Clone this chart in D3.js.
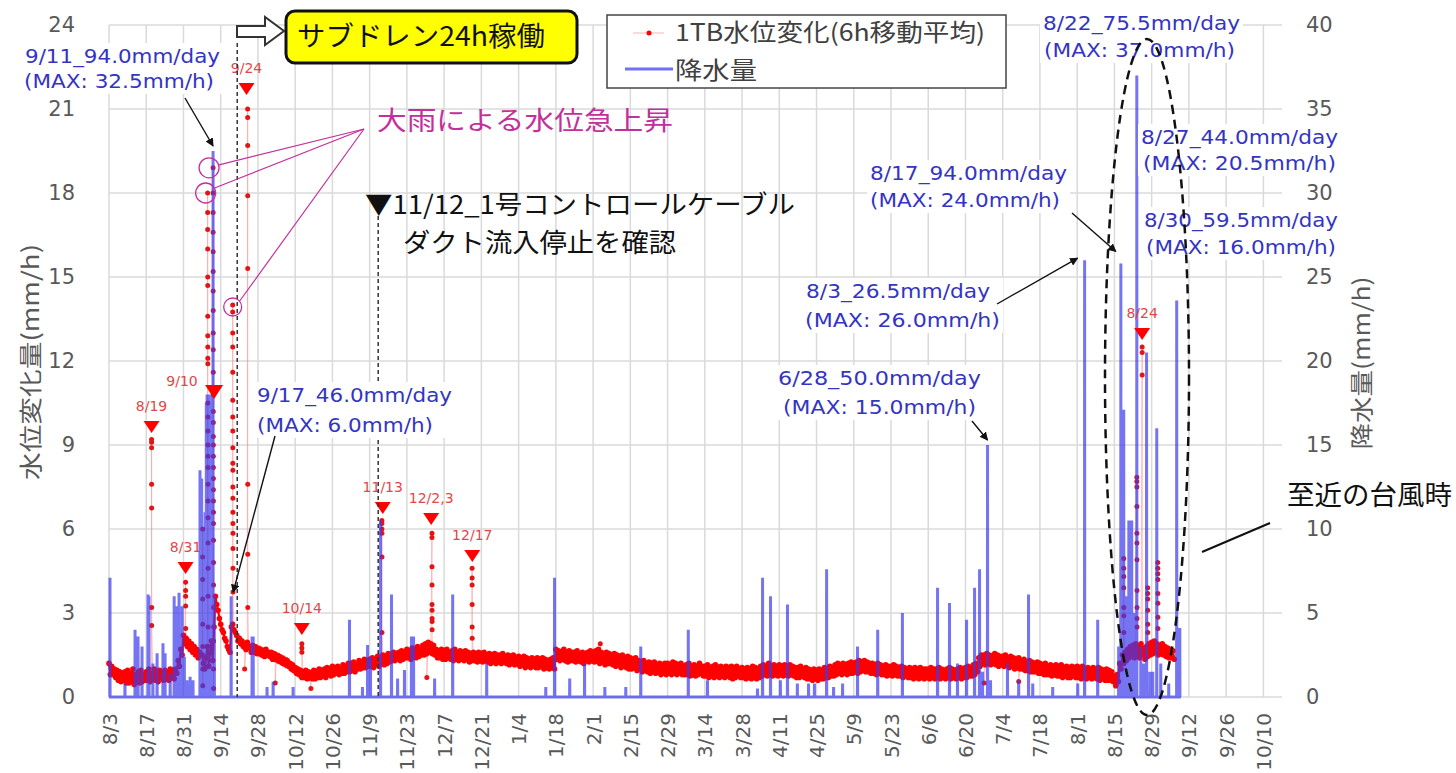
<!DOCTYPE html>
<html><head><meta charset="utf-8">
<script src="https://cdn.jsdelivr.net/npm/d3@7"></script>
<style>
html,body{margin:0;padding:0;background:#fff;}
svg{display:block;}
</style></head><body>
<svg id="chart" width="1456" height="773"></svg>
<script>
// ================= DATA =================
// 1TB water-level change (6h moving avg), sampled every 12 h from levelStart (mm/h, left axis)
const levelStart = "2015-08-03 00";
const levelValues = [
1.2,0.8,1.1,0.8,1.0,0.7,0.95,0.6,0.9,0.55,0.85,0.6,0.9,0.5,
0.95,0.5,0.85,0.55,1.0,0.45,0.8,0.6,0.9,0.5,0.95,0.55,0.8,0.6,
0.9,0.6,1.0,0.55,0.85,0.65,1.0,0.6,0.9,0.55,0.95,0.7,0.85,0.6,
0.95,0.65,0.9,0.6,1.0,0.7,0.95,0.65,1.0,0.85,1.3,1.1,1.7,1.5,
2.2,1.9,2.1,1.8,2.0,1.7,1.9,1.6,1.8,1.5,1.7,1.4,1.6,1.5,
1.5,1.2,1.0,1.4,1.8,1.1,1.6,2.0,1.3,2.5,3.6,3.3,3.1,2.8,
2.6,2.4,2.3,2.1,2.0,1.8,1.7,1.6,2.5,2.6,2.4,2.3,2.2,2.0,
2.1,1.9,2.0,1.8,1.9,1.7,1.95,1.75,1.8,1.6,1.85,1.6,1.8,1.55,
1.75,1.55,1.7,1.5,1.65,1.45,1.7,1.5,1.6,1.45,1.6,1.35,1.55,1.35,
1.5,1.3,1.45,1.25,1.4,1.2,1.35,1.15,1.3,1.1,1.2,1.0,1.15,0.95,
1.05,0.85,1.0,0.8,0.95,0.7,0.9,0.7,0.95,0.65,0.9,0.7,0.85,0.65,
0.95,0.65,0.9,0.7,1.0,0.7,0.95,0.75,1.0,0.7,1.05,0.8,1.0,0.75,
1.1,0.8,1.05,0.85,1.1,0.8,1.0,0.85,1.15,0.85,1.1,0.9,1.2,0.9,
1.2,0.95,1.25,0.9,1.15,1.0,1.3,1.0,1.25,1.05,1.35,1.05,1.3,1.1,
1.35,1.1,1.4,1.05,1.3,1.15,1.45,1.1,1.4,1.2,1.5,1.15,1.45,1.2,
1.55,1.25,1.5,1.3,1.6,1.3,1.55,1.35,1.6,1.3,1.65,1.35,1.6,1.4,
1.7,1.4,1.65,1.35,1.75,1.45,1.7,1.4,1.8,1.45,1.7,1.5,1.85,1.5,
1.9,1.55,1.95,1.6,1.9,1.55,1.85,1.5,1.7,1.4,1.65,1.4,1.7,1.35,
1.65,1.35,1.7,1.4,1.6,1.35,1.65,1.3,1.7,1.35,1.6,1.3,1.65,1.35,
1.6,1.3,1.65,1.35,1.6,1.25,1.55,1.3,1.6,1.3,1.55,1.25,1.6,1.3,
1.55,1.25,1.6,1.3,1.5,1.25,1.55,1.2,1.5,1.25,1.55,1.2,1.5,1.25,
1.5,1.2,1.55,1.25,1.45,1.2,1.5,1.15,1.45,1.2,1.5,1.15,1.4,1.2,
1.45,1.1,1.4,1.15,1.45,1.05,1.4,1.1,1.35,1.05,1.4,1.1,1.35,1.05,
1.4,1.05,1.35,1.1,1.4,1.0,1.35,1.05,1.3,1.0,1.35,1.05,1.4,1.0,
1.7,1.35,1.65,1.3,1.6,1.35,1.7,1.3,1.6,1.25,1.65,1.3,1.6,1.3,
1.6,1.25,1.65,1.3,1.55,1.25,1.6,1.2,1.55,1.3,1.6,1.25,1.65,1.3,
1.6,1.25,1.65,1.3,1.7,1.2,1.6,1.25,1.55,1.15,1.6,1.2,1.55,1.2,
1.5,1.15,1.55,1.1,1.5,1.15,1.45,1.05,1.5,1.1,1.4,1.05,1.45,1.0,
1.4,1.0,1.35,1.05,1.4,0.95,1.3,1.0,1.25,0.9,1.3,0.95,1.2,0.9,
1.25,0.85,1.2,0.9,1.25,0.85,1.15,0.9,1.2,0.8,1.15,0.85,1.2,0.8,
1.2,0.85,1.15,0.8,1.25,0.85,1.2,0.8,1.15,0.85,1.2,0.8,1.1,0.8,
1.15,0.8,1.2,0.75,1.1,0.8,1.15,0.75,1.1,0.8,1.2,0.85,1.1,0.75,
1.1,0.75,1.15,0.7,1.05,0.75,1.1,0.7,1.15,0.75,1.05,0.7,1.1,0.75,
1.05,0.7,1.1,0.75,1.05,0.7,1.1,0.65,1.05,0.7,1.1,0.75,1.0,0.7,
1.05,0.7,1.0,0.65,1.05,0.7,1.0,0.65,1.1,0.7,1.05,0.65,1.0,0.7,
1.1,0.75,1.15,0.8,1.1,0.75,1.2,0.8,1.1,0.75,1.15,0.8,1.1,0.75,
1.15,0.8,1.1,0.75,1.15,0.8,1.1,0.75,1.15,0.8,1.1,0.75,1.05,0.7,
1.05,0.7,1.1,0.75,1.0,0.7,1.05,0.65,1.0,0.65,0.95,0.6,1.0,0.65,
0.95,0.6,1.0,0.65,0.95,0.65,1.05,0.7,1.0,0.7,1.1,0.75,1.05,0.75,
1.15,0.8,1.2,0.85,1.15,0.8,1.2,0.85,1.15,0.8,1.2,0.85,1.25,0.85,
1.2,0.9,1.25,0.85,1.3,0.9,1.25,0.95,1.3,0.9,1.25,0.9,1.2,0.85,
1.2,0.85,1.15,0.8,1.2,0.85,1.15,0.8,1.1,0.8,1.15,0.75,1.1,0.8,
1.1,0.75,1.15,0.8,1.1,0.75,1.05,0.75,1.1,0.7,1.05,0.75,1.0,0.7,
1.05,0.7,1.0,0.65,1.05,0.7,1.0,0.65,1.05,0.7,1.0,0.65,1.0,0.7,
1.0,0.65,1.05,0.7,1.0,0.65,1.0,0.7,1.05,0.65,1.0,0.7,0.95,0.65,
1.0,0.7,1.05,0.65,1.0,0.7,0.95,0.65,1.0,0.7,1.05,0.65,1.0,0.7,
1.05,0.7,1.1,0.75,1.05,0.75,1.15,0.8,1.2,0.9,1.4,1.1,1.5,1.2,
1.5,1.15,1.55,1.2,1.5,1.15,1.45,1.2,1.55,1.15,1.5,1.1,1.45,1.15,
1.45,1.1,1.5,1.15,1.4,1.05,1.45,1.1,1.4,1.0,1.35,1.05,1.4,1.0,
1.3,1.0,1.35,0.95,1.25,0.95,1.3,0.9,1.25,0.9,1.2,0.9,1.25,0.85,
1.2,0.85,1.15,0.8,1.2,0.8,1.1,0.8,1.15,0.75,1.1,0.8,1.15,0.75,
1.1,0.75,1.15,0.7,1.05,0.75,1.1,0.7,1.05,0.7,1.1,0.75,1.05,0.7,
1.1,0.7,1.05,0.65,1.1,0.7,1.0,0.65,1.05,0.7,1.0,0.65,1.05,0.7,
1.0,0.65,1.05,0.6,1.0,0.65,0.95,0.6,1.0,0.6,0.95,0.6,0.9,0.55,
0.75,0.4,0.8,0.55,1.2,1.0,1.5,1.2,1.6,1.3,1.7,1.4,1.8,1.5,
1.85,1.4,1.9,1.45,1.8,1.4,1.9,1.5,1.75,1.35,1.8,1.45,1.9,1.5,
1.95,1.55,2.0,1.6,1.9,1.5,1.85,1.55,1.9,1.5,1.8,1.45,1.75,1.4,
1.7,1.4,1.65,1.35
];
// sudden rises (columns of readings on one day, left axis)
const spikeTimes = ["2015-08-19 00","2015-08-31 19","2015-09-07 05","2015-09-09 02","2015-09-11 03",
  "2015-09-18 12","2015-09-24 03","2015-10-14 12","2015-11-13 14","2015-12-02 10","2015-12-17 12",
  "2016-08-18 12","2016-08-23 10","2016-08-25 10","2016-08-27 12","2016-08-31 07"];
const spikeValues = [
  [9.2,9.1,8.9,7.6,6.75,3.2,2.55],
  [4.1,3.8,3.6,3.25,2.45],
  [6.0,5.0,4.2,3.5,2.6,1.8,1.0,0.4],
  [18.0,17.3,16.7,16.0,15.0,14.7,13.6,12.9,12.5,12.1,11.9,10.5,10.0,9.5,9.0,8.6,8.2,7.6,7.0,6.4,5.5,4.6,3.6,2.5,1.5],
  [18.9,18.0,17.3,16.6,15.9,15.2,14.5,13.8,13.0,12.4,11.6,10.8,10.2,9.8,9.3,9.0,8.6,8.2,7.8,7.4,7.0,6.6,6.2,5.6,4.8,4.0,3.2,2.0,1.0,0.3],
  [14.0,13.75,13.0,12.5,11.6,10.6,10.0,9.5,8.9,8.35,8.1,7.5,7.1,6.6,6.2,5.85,5.3,4.6,3.75],
  [21.0,20.7,19.7,17.9,15.3,7.6,5.1,3.2],
  [1.9,1.75,1.6],
  [6.3,6.2,6.0,5.85,5.0,2.3],
  [5.85,5.7,4.65,4.0,3.3,3.1,2.8,2.7,2.4],
  [4.6,4.25,4.0,3.3,2.5,2.1],
  [4.95,4.6,4.3,3.9,3.2,2.9,2.3],
  [7.85,7.7,7.5,6.8,5.85,5.5,4.9,3.8,3.2,2.8,2.5],
  [12.5,12.3,11.5],
  [3.9,3.7,3.5,3.1,2.6,2.3],
  [4.8,4.6,4.4,4.2,3.7,3.35,2.85,2.45]
];
// isolated readings off the band
const extraTimes = ["2015-09-23 00","2015-10-04 12","2015-10-17 22","2015-11-30 12","2016-02-03 17","2016-06-27 00","2016-07-10 00"];
const extraValues = [1.0,0.5,0.3,0.7,1.9,0.5,0.55];

// precipitation (mm/h, right axis)
const rainTimes = [
"2015-08-03 09","2015-08-09 00","2015-08-12 19","2015-08-13 22","2015-08-15 10","2015-08-17 17","2015-08-18 01","2015-08-19 12",
"2015-08-21 02","2015-08-23 07","2015-08-24 02","2015-08-26 00","2015-08-27 12","2015-08-28 14","2015-08-29 08","2015-08-30 12",
"2015-08-31 08","2015-09-01 08","2015-09-02 12","2015-09-03 14","2015-09-06 05","2015-09-06 20","2015-09-07 09","2015-09-07 20",
"2015-09-08 03","2015-09-08 14","2015-09-08 21","2015-09-09 06","2015-09-09 14","2015-09-09 22","2015-09-10 09","2015-09-10 18",
"2015-09-11 03","2015-09-11 14","2015-09-17 22","2015-09-25 19","2015-09-26 05","2015-10-01 10","2015-10-03 17","2015-10-11 05",
"2015-11-01 10","2015-11-06 07","2015-11-08 05","2015-11-09 07","2015-11-13 02","2015-11-17 05","2015-11-19 12","2015-11-22 02",
"2015-11-24 17","2015-11-25 12","2015-12-03 10","2015-12-10 05","2015-12-23 00","2016-01-14 05","2016-01-17 12","2016-01-23 05",
"2016-01-28 19","2016-02-05 10","2016-02-13 07","2016-02-18 22","2016-03-07 19","2016-03-15 00","2016-04-02 19","2016-04-04 17",
"2016-04-07 17","2016-04-11 10","2016-04-14 02","2016-04-17 19","2016-04-22 00","2016-04-24 05","2016-04-28 19","2016-05-01 10",
"2016-05-04 19","2016-05-10 10","2016-05-18 00","2016-05-27 07","2016-06-09 12","2016-06-14 00","2016-06-17 00","2016-06-20 10",
"2016-06-23 10","2016-06-25 07","2016-06-26 10","2016-06-28 07","2016-06-29 10","2016-07-05 19","2016-07-10 00","2016-07-13 17",
"2016-07-15 07","2016-07-22 19","2016-08-01 05","2016-08-03 19","2016-08-08 17","2016-08-16 14","2016-08-17 10","2016-08-18 12",
"2016-08-19 14","2016-08-20 10","2016-08-21 12","2016-08-22 07","2016-08-23 10","2016-08-24 22","2016-08-26 00","2016-08-27 02",
"2016-08-28 07","2016-08-29 10","2016-08-30 22","2016-09-01 10","2016-09-04 10","2016-09-07 10","2016-09-08 14"];
const rainValues = [
7.1,0.8,4.0,3.6,3.0,6.1,6.0,2.0,
2.6,3.2,2.6,1.4,6.0,5.4,6.2,5.4,
2.4,1.0,1.2,1.0,13.5,13.0,8.0,10.0,
11.0,17.5,18.0,17.0,18.0,17.5,17.0,18.0,
32.5,6.0,6.0,3.6,3.6,0.6,0.9,0.6,
4.6,0.6,3.1,2.4,10.5,6.1,1.1,1.6,
3.6,3.6,1.1,6.1,2.0,0.6,7.1,1.1,
2.0,0.6,0.6,3.0,4.0,1.0,0.5,7.1,
6.0,1.0,5.5,0.8,0.8,0.8,7.6,0.6,
0.8,3.0,4.0,5.0,6.5,5.6,2.0,4.6,
6.5,7.6,1.5,15.0,1.0,2.0,1.0,6.1,
0.8,0.6,0.8,26.0,4.6,3.0,25.8,17.1,
6.0,10.5,10.5,5.0,37.0,3.0,2.0,20.5,
1.5,1.5,16.0,2.0,0.8,23.6,4.1];
const rainEnd = "2016-09-08 23";

// event markers (▼) on the water-level series
const markerTimes = ["2015-08-19 00","2015-08-31 19","2015-09-11 12","2015-09-23 17","2015-10-14 12","2015-11-13 22","2015-12-02 03","2015-12-17 14","2016-08-25 10"];
const markerValues = [9.86,4.82,11.14,21.93,2.64,6.96,6.57,5.25,13.18];
const markerLabels = ["8/19","8/31","9/10","9/24","10/14","11/13","12/2,3","12/17","8/24"];

const xTickDates = ["2015-08-03","2015-08-17","2015-08-31","2015-09-14","2015-09-28","2015-10-12","2015-10-26","2015-11-09",
"2015-11-23","2015-12-07","2015-12-21","2016-01-04","2016-01-18","2016-02-01","2016-02-15","2016-02-29","2016-03-14",
"2016-03-28","2016-04-11","2016-04-25","2016-05-09","2016-05-23","2016-06-06","2016-06-20","2016-07-04","2016-07-18",
"2016-08-01","2016-08-15","2016-08-29","2016-09-12","2016-09-26","2016-10-10"];
const leftTicks = [0,3,6,9,12,15,18,21,24];
const rightTicks = [0,5,10,15,20,25,30,35,40];
const seriesNames = ["1TB水位変化(6h移動平均)","降水量"];
const leftTitle = "水位変化量(mm/h)";
const rightTitle = "降水量(mm/h)";

// ================= CHART =================
const parseH = d3.timeParse("%Y-%m-%d %H");
const parseD = d3.timeParse("%Y-%m-%d");
const svg = d3.select("#chart");
const M = {left:109, right:1282, top:25, bottom:697};
const x = d3.scaleTime().domain([parseD("2015-08-03"), parseD("2016-10-17")]).range([M.left, M.right]);
const yL = d3.scaleLinear().domain([0,24]).range([M.bottom, M.top]);
const yR = d3.scaleLinear().domain([0,40]).range([M.bottom, M.top]);
const GRAY = "#595959";
const JP = "'Noto Sans CJK JP','Noto Sans CJK SC',sans-serif";
const LAT = "'DejaVu Sans',sans-serif";
const BLUE = "#3434c4";
const RED = "#ff0000";

const defs = svg.append("defs");
defs.append("marker").attr("id","ah").attr("viewBox","0 0 10 10").attr("refX",9).attr("refY",5)
  .attr("markerWidth",6).attr("markerHeight",6).attr("orient","auto")
  .append("path").attr("d","M0,0L10,5L0,10z").attr("fill","#111");

// gridlines
const grid = svg.append("g");
grid.selectAll(".gh").data(leftTicks).join("line").attr("class","gh")
  .attr("x1",M.left).attr("x2",M.right).attr("y1",d=>yL(d)).attr("y2",d=>yL(d))
  .attr("stroke","#dadada").attr("stroke-width",1.5);
grid.selectAll(".gv").data(xTickDates).join("line").attr("class","gv")
  .attr("x1",d=>x(parseD(d))).attr("x2",d=>x(parseD(d))).attr("y1",M.top).attr("y2",M.bottom)
  .attr("stroke","#dadada").attr("stroke-width",1.5);

// axes
const axL = svg.append("g").attr("transform",`translate(${M.left},0)`)
  .call(d3.axisLeft(yL).tickValues(leftTicks).tickSize(0).tickPadding(34));
axL.select(".domain").remove();
axL.selectAll("text").attr("fill",GRAY).style("font-family",LAT).style("font-size","21px");
const axR = svg.append("g").attr("transform",`translate(${M.right},0)`)
  .call(d3.axisRight(yR).tickValues(rightTicks).tickSize(0).tickPadding(24));
axR.select(".domain").remove();
axR.selectAll("text").attr("fill",GRAY).style("font-family",LAT).style("font-size","21px");
const axB = svg.append("g").attr("transform",`translate(0,${M.bottom})`)
  .call(d3.axisBottom(x).tickValues(xTickDates.map(parseD)).tickFormat(d3.timeFormat("%-m/%-d")).tickSize(0));
axB.select(".domain").remove();
axB.selectAll("text").attr("transform","rotate(-90)").attr("text-anchor","end")
  .attr("x",-16).attr("y",0).attr("dy","0.35em").attr("fill",GRAY)
  .style("font-family",LAT).style("font-size","20px");

// axis titles
svg.append("text").attr("transform","translate(31,362) rotate(-90)").attr("text-anchor","middle")
  .attr("dy","0.35em").attr("fill",GRAY).style("font-family",JP).style("font-size","23px")
  .attr("textLength",236).attr("lengthAdjust","spacingAndGlyphs").text(leftTitle);
svg.append("text").attr("transform","translate(1362,363) rotate(-90)").attr("text-anchor","middle")
  .attr("dy","0.35em").attr("fill",GRAY).style("font-family",JP).style("font-size","23px")
  .attr("textLength",173).attr("lengthAdjust","spacingAndGlyphs").text(rightTitle);

// water level series
const t0 = parseH(levelStart);
const band = levelValues.map((v,i)=>({t:d3.timeHour.offset(t0,12*i), v, k:"b"}));
const pts = band.slice();
spikeTimes.forEach((s,j)=>{
  const ts = parseH(s);
  spikeValues[j].forEach((v,k)=>pts.push({t:d3.timeMinute.offset(ts,10*k+5), v, k:"s"}));
});
extraTimes.forEach((s,j)=>pts.push({t:parseH(s), v:extraValues[j], k:"s"}));
pts.sort((a,b)=>a.t-b.t);
const lineL = d3.line().x(d=>x(d.t)).y(d=>yL(d.v));
svg.append("path").datum(pts).attr("d", lineL)
  .attr("fill","none").attr("stroke","#ff8a8a").attr("stroke-width",1).attr("stroke-opacity",0.5);
svg.append("path").datum(band).attr("d", lineL)
  .attr("fill","none").attr("stroke",RED).attr("stroke-width",2.2);
svg.append("g").selectAll("circle").data(pts).join("circle")
  .attr("cx",d=>x(d.t)).attr("cy",d=>yL(d.v)).attr("r",d=>d.k==="b"?2.8:2.5)
  .attr("fill",d=>d.k==="b"?RED:"#e41414");

// precipitation series (hourly line)
const rain = [{t:t0, v:0}];
rainTimes.forEach((s,i)=>{
  const t = parseH(s);
  rain.push({t:d3.timeHour.offset(t,-1), v:0},{t, v:rainValues[i]},{t:d3.timeHour.offset(t,1), v:0});
});
rain.push({t:parseH(rainEnd), v:0});
svg.append("path").datum(rain)
  .attr("d", d3.line().x(d=>x(d.t)).y(d=>yR(d.v)))
  .attr("fill","none").attr("stroke","#3a3aee").attr("stroke-opacity",0.7)
  .attr("stroke-width",3).attr("stroke-linejoin","bevel");

// event markers
const mk = svg.append("g");
markerTimes.forEach((s,i)=>{
  const cx = x(parseH(s)), ty = yL(markerValues[i]);
  const big = markerLabels[i]==="9/10";
  const w = big?9:8, h = big?14:12;
  mk.append("polygon").attr("points",`${cx-w},${ty} ${cx+w},${ty} ${cx},${ty+h}`).attr("fill",RED);
  mk.append("text").attr("x", big? cx-32 : cx).attr("y", big? ty-4 : ty-15).attr("dy","0.35em")
    .attr("text-anchor","middle").attr("fill","#e04848").style("font-family",LAT).style("font-size","14px")
    .text(markerLabels[i]);
});

// dashed reference lines
svg.append("line").attr("x1",x(parseH("2015-09-20 05"))).attr("x2",x(parseH("2015-09-20 05")))
  .attr("y1",43).attr("y2",M.bottom).attr("stroke","#333").attr("stroke-width",1.5).attr("stroke-dasharray","4,3");
svg.append("line").attr("x1",x(parseH("2015-11-12 05"))).attr("x2",x(parseH("2015-11-12 05")))
  .attr("y1",216).attr("y2",M.bottom).attr("stroke","#333").attr("stroke-width",1.5).attr("stroke-dasharray","4,3");

// helper for fitted text
function fitText(s, x0, yc, len, size, fill, family, anchor){
  return svg.append("text").attr("x",x0).attr("y",yc).attr("dy","0.35em").attr("fill",fill)
    .attr("text-anchor",anchor||"start")
    .style("font-family",family).style("font-size",size+"px")
    .attr("textLength",len).attr("lengthAdjust","spacingAndGlyphs").text(s);
}

// rainfall annotations (blue)
const notes = [
  ["9/11_94.0mm/day",25,56,195,"(MAX: 32.5mm/h)",24,81,190],
  ["9/17_46.0mm/day",257,395,195,"(MAX: 6.0mm/h)",257,425,176],
  ["6/28_50.0mm/day",778,378,203,"(MAX: 15.0mm/h)",783,407,193],
  ["8/3_26.5mm/day",806,291,184,"(MAX: 26.0mm/h)",805,320,195],
  ["8/17_94.0mm/day",870,173,197,"(MAX: 24.0mm/h)",870,200,190],
  ["8/22_75.5mm/day",1043,23,197,"(MAX: 37.0mm/h)",1044,50,191],
  ["8/27_44.0mm/day",1141,137,197,"(MAX: 20.5mm/h)",1143,163,193],
  ["8/30_59.5mm/day",1144,220,194,"(MAX: 16.0mm/h)",1146,247,190]
];
notes.forEach(n=>{
  const x0 = Math.min(n[1],n[5])-3, w = Math.max(n[1]+n[3],n[5]+n[7])-x0+3;
  svg.append("rect").attr("x",x0).attr("y",n[2]-13).attr("width",w).attr("height",n[6]-n[2]+26).attr("fill","#fff");
  fitText(n[0],n[1],n[2],n[3],19,BLUE,LAT);
  fitText(n[4],n[5],n[6],n[7],19,BLUE,LAT);
});

// arrows to rainfall peaks
function arrow(x1,y1,x2,y2){
  svg.append("line").attr("x1",x1).attr("y1",y1).attr("x2",x2).attr("y2",y2)
    .attr("stroke","#111").attr("stroke-width",1.4).attr("marker-end","url(#ah)");
}
arrow(185,98, x(parseH("2015-09-11 03")), yR(32.5)-5);
arrow(275,436, x(parseH("2015-09-17 22"))+2, yR(6.0)-4);
arrow(972,421, x(parseH("2016-06-28 07")), yR(15.0)-5);
arrow(997,304, x(parseH("2016-08-03 19"))-7, yR(26.0)-2);
arrow(1072,213, x(parseH("2016-08-17 10"))-5, yR(25.8)-12);

// heavy-rain rise callout (magenta)
const MAG = "#c3309c";
fitText("大雨による水位急上昇",377,121,296,26,MAG,JP);
const c1 = [x(parseH("2015-09-11 03"))-4, yL(18.9)];
const c2 = [x(parseH("2015-09-09 02"))-2, yL(18.0)];
const c3 = [x(parseH("2015-09-18 12")), yL(14.0)+2];
[[c1,10],[c2,10],[c3,9]].forEach(([c,r])=>{
  svg.append("circle").attr("cx",c[0]).attr("cy",c[1]).attr("r",r).attr("fill","none").attr("stroke",MAG).attr("stroke-width",1.3);
});
[[c1[0]+10,c1[1]-3],[c2[0]+9,c2[1]-5],[c3[0]+7,c3[1]-6]].forEach(p=>{
  svg.append("line").attr("x1",364).attr("y1",129).attr("x2",p[0]).attr("y2",p[1]).attr("stroke",MAG).attr("stroke-width",1.2);
});

// sub-drain operation box + block arrow
svg.append("polygon").attr("points","237,26 265,26 265,17 284,31 265,45 265,37 237,37")
  .attr("fill","#fff").attr("stroke","#333").attr("stroke-width",2);
svg.append("rect").attr("x",286).attr("y",11).attr("width",291).attr("height",52).attr("rx",9)
  .attr("fill","#ffff00").attr("stroke","#111").attr("stroke-width",3);
fitText("サブドレン24h稼働",297,37,248,27,"#111",JP);

// control cable duct note
fitText("▼11/12_1号コントロールケーブル",365,205,430,26,"#111",JP);
fitText("ダクト流入停止を確認",403,243,273,26,"#111",JP);

// legend
svg.append("rect").attr("x",607).attr("y",15).attr("width",399).attr("height",73).attr("fill","#fff").attr("stroke","#444").attr("stroke-width",1.5);
svg.append("line").attr("x1",633).attr("x2",664).attr("y1",33).attr("y2",33).attr("stroke","#ff8080").attr("stroke-width",1).attr("stroke-opacity",0.6);
svg.append("circle").attr("cx",649).attr("cy",33).attr("r",2.5).attr("fill",RED);
fitText(seriesNames[0],675,33,310,24,"#404040",JP);
svg.append("line").attr("x1",625).attr("x2",673).attr("y1",69).attr("y2",69).attr("stroke","#3a3aee").attr("stroke-opacity",0.72).attr("stroke-width",3);
fitText(seriesNames[1],675,71,82,24,"#404040",JP);

// typhoon ellipse + label
svg.append("ellipse").attr("cx",1147).attr("cy",377).attr("rx",42).attr("ry",338)
  .attr("fill","none").attr("stroke","#111").attr("stroke-width",2.5).attr("stroke-dasharray","9,6");
fitText("至近の台風時",1287,496,165,27,"#111",JP);
svg.append("line").attr("x1",1202).attr("y1",552).attr("x2",1270).attr("y2",523).attr("stroke","#111").attr("stroke-width",2);
</script>
</body></html>
